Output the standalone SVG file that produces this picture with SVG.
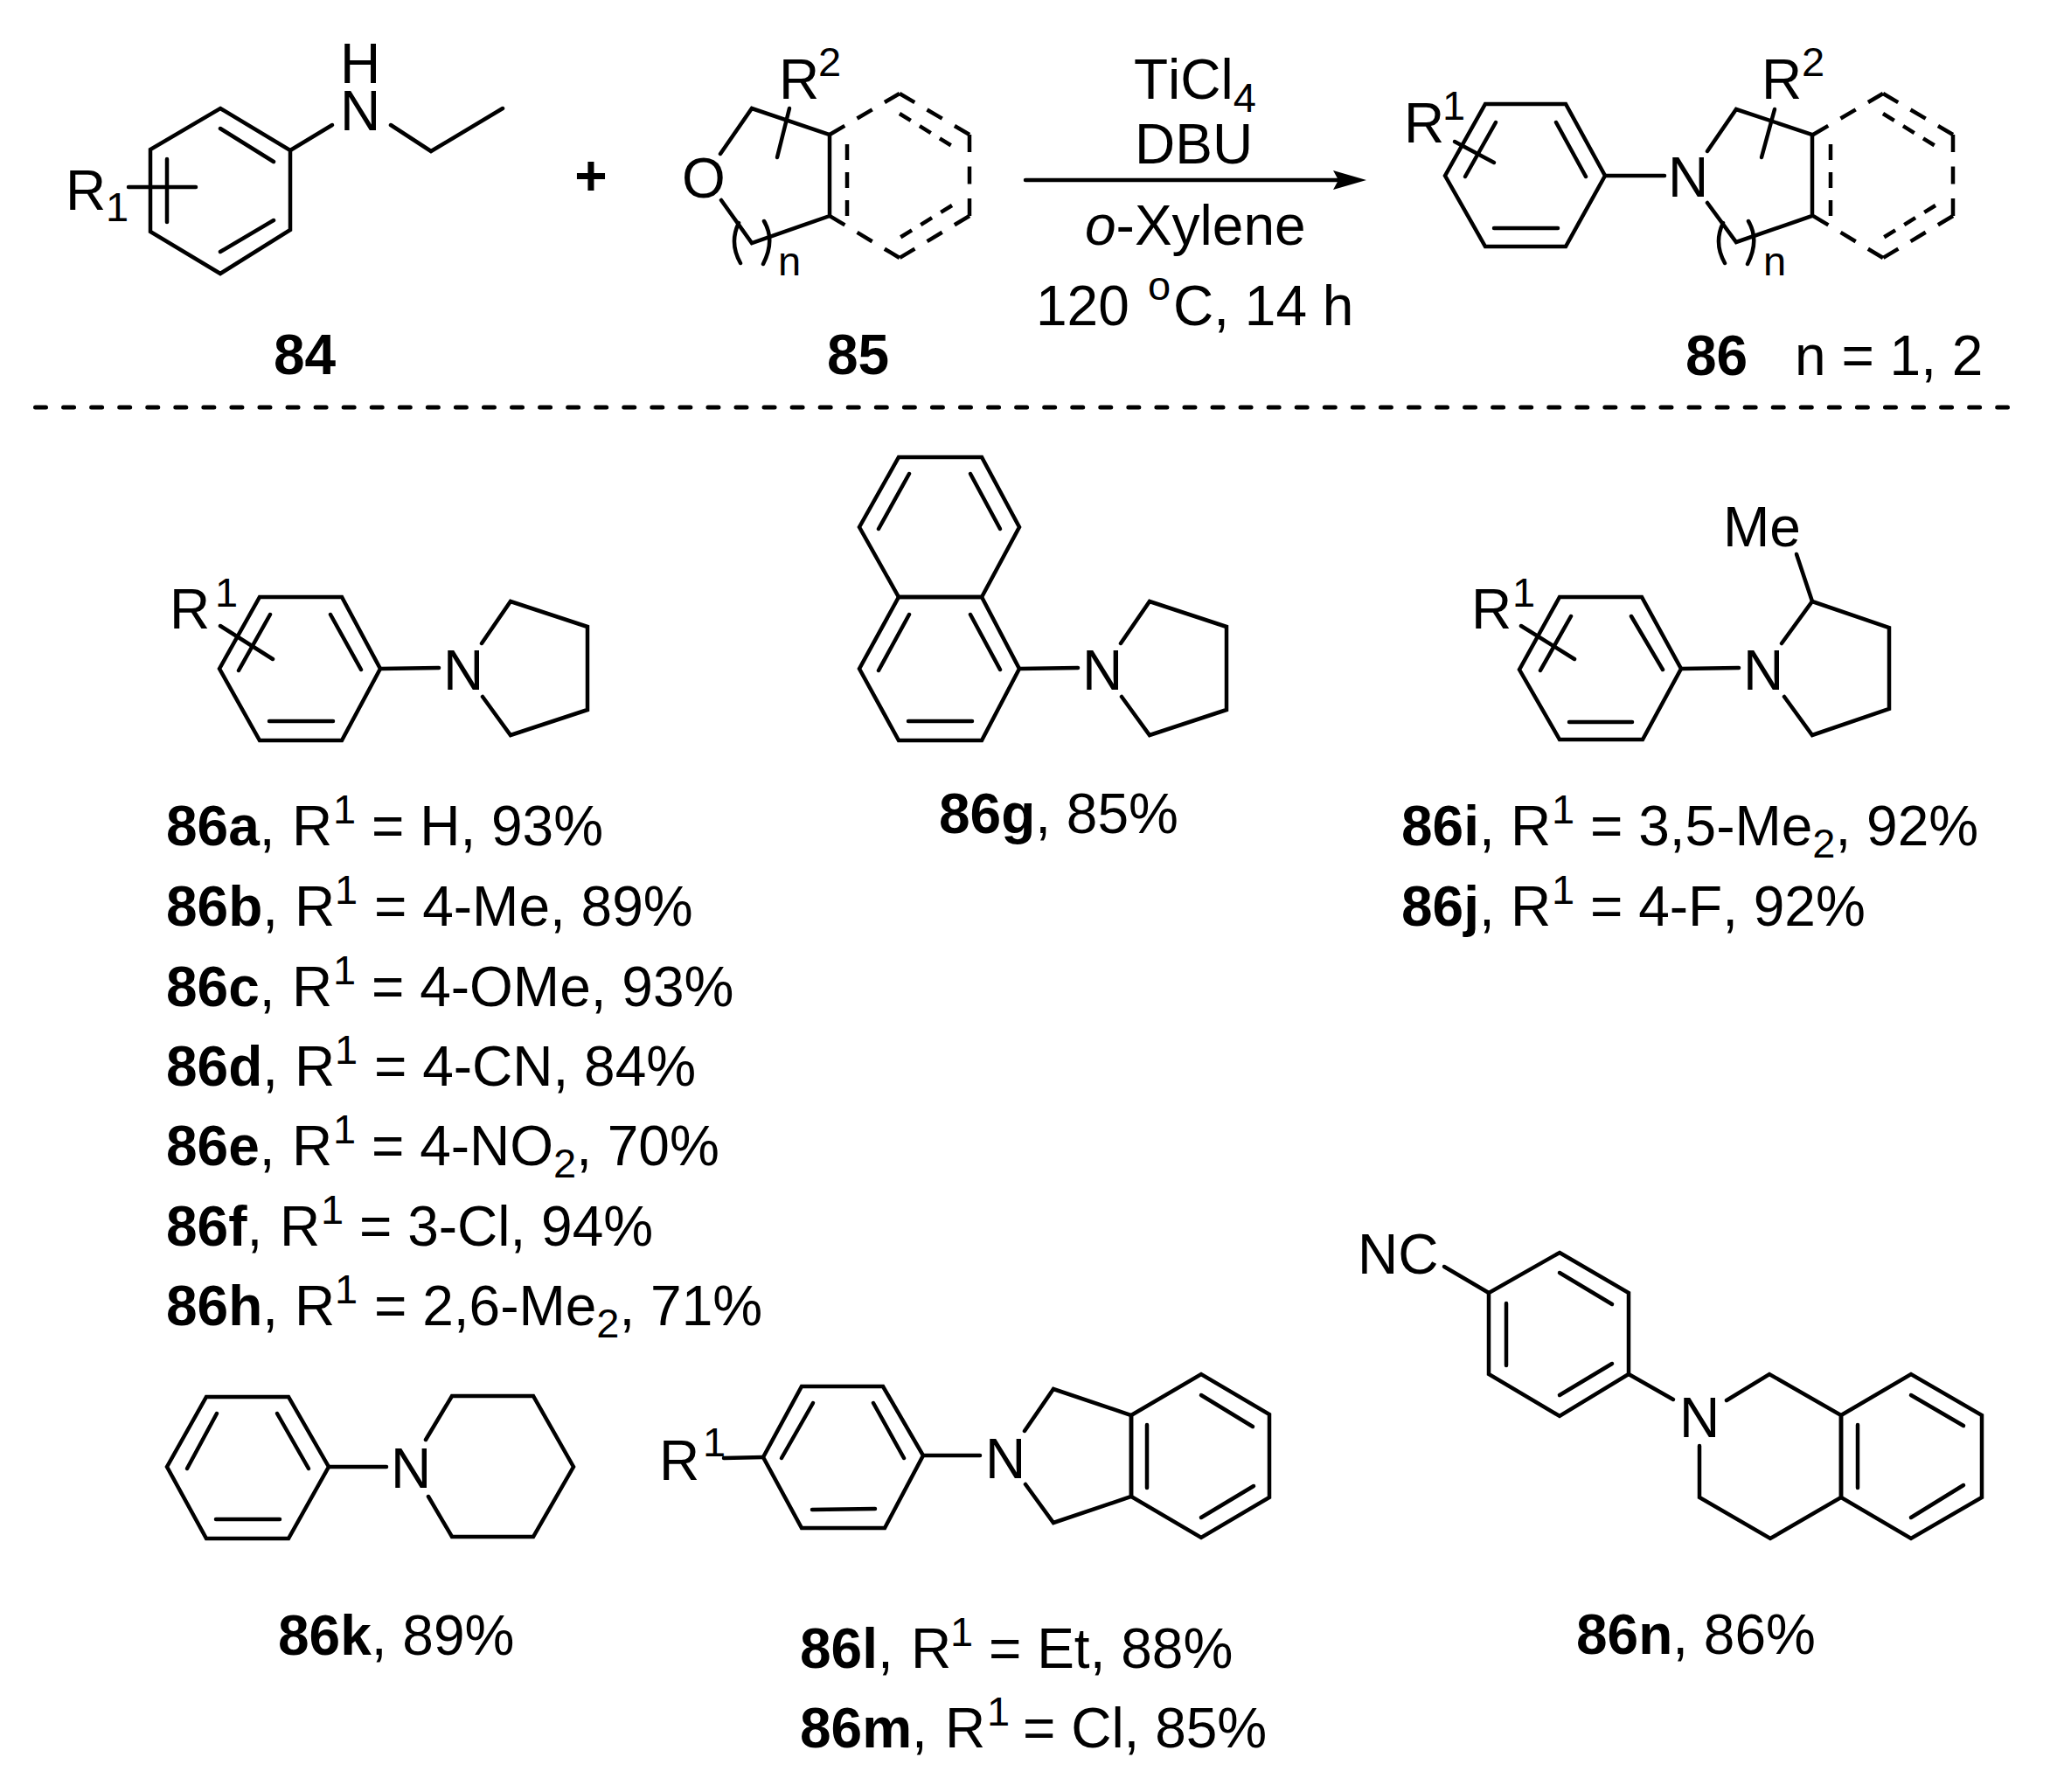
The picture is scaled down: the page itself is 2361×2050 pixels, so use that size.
<svg xmlns="http://www.w3.org/2000/svg" width="2361" height="2050" viewBox="0 0 2361 2050">
<style>
text{font-family:"Liberation Sans",Arial,sans-serif;font-size:64px;fill:#000;font-kerning:none}
.b{font-weight:700}
.s{font-size:47px}
.i{font-style:italic}
.m{text-anchor:middle}
path,line,polyline,polygon{fill:none;stroke:#000;stroke-width:4.5;stroke-linecap:round;stroke-linejoin:miter}
.d1{stroke-dasharray:20 16.5;stroke-linecap:butt}
.d2{stroke-dasharray:18 14;stroke-linecap:butt}
.d3{stroke-dasharray:15 12;stroke-linecap:butt}
.sep{stroke-dasharray:12 20.06;stroke-width:5}
</style>
<defs>
<marker id="ah" markerUnits="userSpaceOnUse" markerWidth="44" markerHeight="28" refX="6" refY="13" orient="auto">
<path d="M0,2 L38,13 L0,24 L6,13 Z" style="fill:#000;stroke:none"/>
</marker>
<g id="dashring">
<line class="d1" x1="949" y1="154" x2="1029" y2="107"/>
<line class="d1" x1="1029" y1="107" x2="1109" y2="154"/>
<line class="d1" x1="1109" y1="154" x2="1109" y2="247"/>
<line class="d1" x1="1109" y1="247" x2="1029" y2="295"/>
<line class="d1" x1="1029" y1="295" x2="949" y2="247"/>
<line class="d2" x1="969" y1="165" x2="969" y2="247"/>
<line class="d3" x1="1029" y1="130" x2="1089" y2="167"/>
<line class="d3" x1="1089" y1="235" x2="1029" y2="272"/>
</g>
</defs>
<rect width="2361" height="2050" fill="#fff"/>

<g id="compound-84">
<polygon points="252,124 332,172 332,263 252,313 172,265 172,171"/>
<line x1="252" y1="147" x2="313" y2="185"/>
<line x1="313" y1="252" x2="252" y2="288"/>
<line x1="191" y1="182" x2="191" y2="254"/>
<line x1="147" y1="214" x2="224" y2="214"/>
<line x1="332" y1="172" x2="380" y2="143"/>
<polyline points="447,143 493,173 575,124"/>
<text class="m" x="412" y="95">H</text>
<text class="m" x="412" y="149">N</text>
<text x="75" y="240">R<tspan class="s" x="121" y="253">1</tspan></text>
<text class="b" x="313" y="428">84</text>
</g>

<g id="plus"><text class="b m" x="676" y="223">+</text></g>

<g id="compound-85">
<polyline points="824,176 860,124 949,154 949,247 860,278 825,229"/>
<line x1="903" y1="124" x2="889" y2="180"/>
<use href="#dashring"/>
<path d="M845,255 Q834,278 847,301"/>
<path d="M874,253 Q887,275 873,302"/>
<text class="m" x="805" y="226">O</text>
<text x="891" y="113">R<tspan class="s" x="936" y="87">2</tspan></text>
<text class="s" x="890" y="315">n</text>
<text class="b" x="946" y="428">85</text>
</g>

<g id="connectors">
<line x1="1173" y1="206" x2="1531" y2="206" marker-end="url(#ah)"/>
<line class="sep" x1="40.5" y1="466" x2="2296.5" y2="466"/>
</g>

<g id="conditions">
<text x="1297" y="113">TiCl<tspan class="s" dy="15">4</tspan></text>
<text x="1298" y="187">DBU</text>
<text x="1241" y="280"><tspan class="i">o</tspan>-Xylene</text>
<text x="1185" y="372">120<tspan class="s" x="1313" y="343">o</tspan><tspan x="1342" y="372">C, 14 h</tspan></text>
</g>

<g id="compound-86">
<polygon points="1699,119 1791,119 1836,201 1791,282 1699,282 1653,201"/>
<line x1="1780" y1="140" x2="1814" y2="202"/>
<line x1="1709" y1="261" x2="1782" y2="261"/>
<line x1="1711" y1="140" x2="1676" y2="202"/>
<line x1="1664" y1="162" x2="1709" y2="186"/>
<line x1="1836" y1="201" x2="1904" y2="201"/>
<polyline points="1953,173 1986,125 2073,154 2073,247 1986,277 1953,232"/>
<line x1="2030" y1="125" x2="2015" y2="180"/>
<use href="#dashring" transform="translate(1125,0)"/>
<path d="M1971,255 Q1960,278 1973,301"/>
<path d="M2000,253 Q2013,275 1999,302"/>
<text class="m" x="1931" y="225">N</text>
<text x="1606" y="163">R<tspan class="s" x="1650" y="137">1</tspan></text>
<text x="2015" y="113">R<tspan class="s" x="2061" y="87">2</tspan></text>
<text class="s" x="2017" y="315">n</text>
<text class="b" x="1928" y="429">86</text>
<text x="2053" y="429">n = 1, 2</text>
</g>

<g id="compound-86a-f-h">
<polygon points="297,683 391,683 435,765 391,847 297,847 251,765"/>
<line x1="378" y1="703" x2="413" y2="766"/>
<line x1="308" y1="825" x2="381" y2="825"/>
<line x1="309" y1="703" x2="273" y2="767"/>
<line x1="252" y1="716" x2="312" y2="754"/>
<line x1="435" y1="765" x2="502" y2="764"/>
<polyline points="551,736 584,688 672,717 672,812 584,841 552,797"/>
<text class="m" x="530" y="789">N</text>
<text x="194" y="719">R<tspan class="s" x="246" y="694">1</tspan></text>
<text y="967"><tspan class="b" x="190">86a</tspan>,<tspan x="334">R</tspan><tspan class="s" x="381" y="942">1</tspan><tspan x="425" y="967">= H, 93%</tspan></text>
<text y="1059"><tspan class="b" x="190">86b</tspan>,<tspan x="337">R</tspan><tspan class="s" x="383" y="1034">1</tspan><tspan x="428" y="1059">= 4-Me, 89%</tspan></text>
<text y="1151"><tspan class="b" x="190">86c</tspan>,<tspan x="334">R</tspan><tspan class="s" x="381" y="1126">1</tspan><tspan x="425" y="1151">= 4-OMe, 93%</tspan></text>
<text y="1242"><tspan class="b" x="190">86d</tspan>,<tspan x="337">R</tspan><tspan class="s" x="383" y="1217">1</tspan><tspan x="428" y="1242">= 4-CN, 84%</tspan></text>
<text y="1333"><tspan class="b" x="190">86e</tspan>,<tspan x="334">R</tspan><tspan class="s" x="381" y="1308">1</tspan><tspan x="425" y="1333">= 4-NO</tspan><tspan class="s" dy="14">2</tspan><tspan dy="-14">, 70%</tspan></text>
<text y="1425"><tspan class="b" x="190">86f</tspan>,<tspan x="320">R</tspan><tspan class="s" x="367" y="1400">1</tspan><tspan x="411" y="1425">= 3-Cl, 94%</tspan></text>
<text y="1516"><tspan class="b" x="190">86h</tspan>,<tspan x="337">R</tspan><tspan class="s" x="383" y="1491">1</tspan><tspan x="428" y="1516">= 2,6-Me</tspan><tspan class="s" dy="14">2</tspan><tspan dy="-14">, 71%</tspan></text>
</g>

<g id="compound-86g">
<polygon points="1028,523 1123,523 1166,603 1123,683 1028,683 983,603"/>
<polygon points="1028,683 1123,683 1166,765 1123,847 1028,847 983,765"/>
<line x1="1110" y1="542" x2="1144" y2="605"/>
<line x1="1040" y1="542" x2="1005" y2="605"/>
<line x1="1110" y1="703" x2="1144" y2="766"/>
<line x1="1040" y1="703" x2="1005" y2="767"/>
<line x1="1039" y1="825" x2="1112" y2="825"/>
<line x1="1166" y1="765" x2="1233" y2="764"/>
<polyline points="1282,736 1315,688 1403,717 1403,812 1315,841 1283,797"/>
<text class="m" x="1261" y="789">N</text>
<text y="953"><tspan class="b" x="1074">86g</tspan>, 85%</text>
</g>

<g id="compound-86i-j">
<polygon points="1784,683 1878,683 1923,765 1879,846 1784,846 1738,766"/>
<line x1="1866" y1="705" x2="1902" y2="766"/>
<line x1="1795" y1="826" x2="1867" y2="826"/>
<line x1="1797" y1="705" x2="1762" y2="767"/>
<line x1="1740" y1="716" x2="1801" y2="754"/>
<line x1="1923" y1="765" x2="1989" y2="764"/>
<polyline points="2038,736 2073,688 2161,718 2161,811 2073,841 2041,797"/>
<line x1="2055" y1="634" x2="2073" y2="688"/>
<text class="m" x="2017" y="789">N</text>
<text x="1971" y="625">Me</text>
<text x="1683" y="719">R<tspan class="s" x="1730" y="694">1</tspan></text>
<text y="967"><tspan class="b" x="1603">86i</tspan>,<tspan x="1728">R</tspan><tspan class="s" x="1775" y="942">1</tspan><tspan x="1819" y="967">= 3,5-Me</tspan><tspan class="s" dy="14">2</tspan><tspan dy="-14">, 92%</tspan></text>
<text y="1059"><tspan class="b" x="1603">86j</tspan>,<tspan x="1728">R</tspan><tspan class="s" x="1775" y="1034">1</tspan><tspan x="1819" y="1059">= 4-F, 92%</tspan></text>
</g>

<g id="compound-86k">
<polygon points="236,1598 330,1598 376,1678 330,1760 236,1760 191,1678"/>
<line x1="317" y1="1617" x2="353" y2="1680"/>
<line x1="247" y1="1738" x2="320" y2="1738"/>
<line x1="248" y1="1617" x2="214" y2="1680"/>
<line x1="376" y1="1678" x2="442" y2="1678"/>
<polyline points="487,1647 517,1597 610,1597 656,1678 610,1758 517,1758 490,1712"/>
<text class="m" x="470" y="1702">N</text>
<text y="1893"><tspan class="b" x="318">86k</tspan>, 89%</text>
</g>

<g id="compound-86l-m">
<polygon points="917,1586 1010,1586 1056,1665 1012,1748 917,1748 873,1667"/>
<line x1="999" y1="1605" x2="1034" y2="1668"/>
<line x1="929" y1="1727" x2="1001" y2="1726"/>
<line x1="930" y1="1605" x2="894" y2="1668"/>
<line x1="828" y1="1668" x2="873" y2="1667"/>
<line x1="1056" y1="1665" x2="1121" y2="1665"/>
<polyline points="1172,1637 1205,1589 1294,1619 1294,1712 1205,1742 1173,1698"/>
<polygon points="1294,1619 1374,1572 1452,1618 1452,1713 1374,1759 1294,1712"/>
<line x1="1312" y1="1630" x2="1312" y2="1702"/>
<line x1="1374" y1="1596" x2="1433" y2="1632"/>
<line x1="1434" y1="1700" x2="1374" y2="1736"/>
<text class="m" x="1150" y="1691">N</text>
<text x="754" y="1693">R<tspan class="s" x="804" y="1666">1</tspan></text>
<text y="1908"><tspan class="b" x="915">86l</tspan>,<tspan x="1042">R</tspan><tspan class="s" x="1087" y="1883">1</tspan><tspan x="1131" y="1908">= Et, 88%</tspan></text>
<text y="1999"><tspan class="b" x="915">86m</tspan>,<tspan x="1081">R</tspan><tspan class="s" x="1129" y="1974">1</tspan><tspan x="1170" y="1999">= Cl, 85%</tspan></text>
</g>

<g id="compound-86n">
<polygon points="1784,1433 1863,1479 1863,1572 1784,1620 1703,1572 1703,1479"/>
<line x1="1652" y1="1449" x2="1703" y2="1479"/>
<line x1="1784" y1="1456" x2="1844" y2="1492"/>
<line x1="1723" y1="1491" x2="1723" y2="1562"/>
<line x1="1844" y1="1560" x2="1784" y2="1596"/>
<line x1="1863" y1="1572" x2="1914" y2="1601"/>
<polyline points="1975,1602 2024,1572 2106,1619 2106,1713 2025,1760 1944,1713 1944,1654"/>
<polygon points="2106,1619 2186,1572 2267,1619 2267,1713 2186,1760 2106,1713"/>
<line x1="2125" y1="1630" x2="2125" y2="1702"/>
<line x1="2186" y1="1596" x2="2246" y2="1631"/>
<line x1="2246" y1="1699" x2="2186" y2="1736"/>
<text class="m" x="1944" y="1644">N</text>
<text x="1553" y="1457">NC</text>
<text y="1892"><tspan class="b" x="1803">86n</tspan>, 86%</text>
</g>
</svg>
